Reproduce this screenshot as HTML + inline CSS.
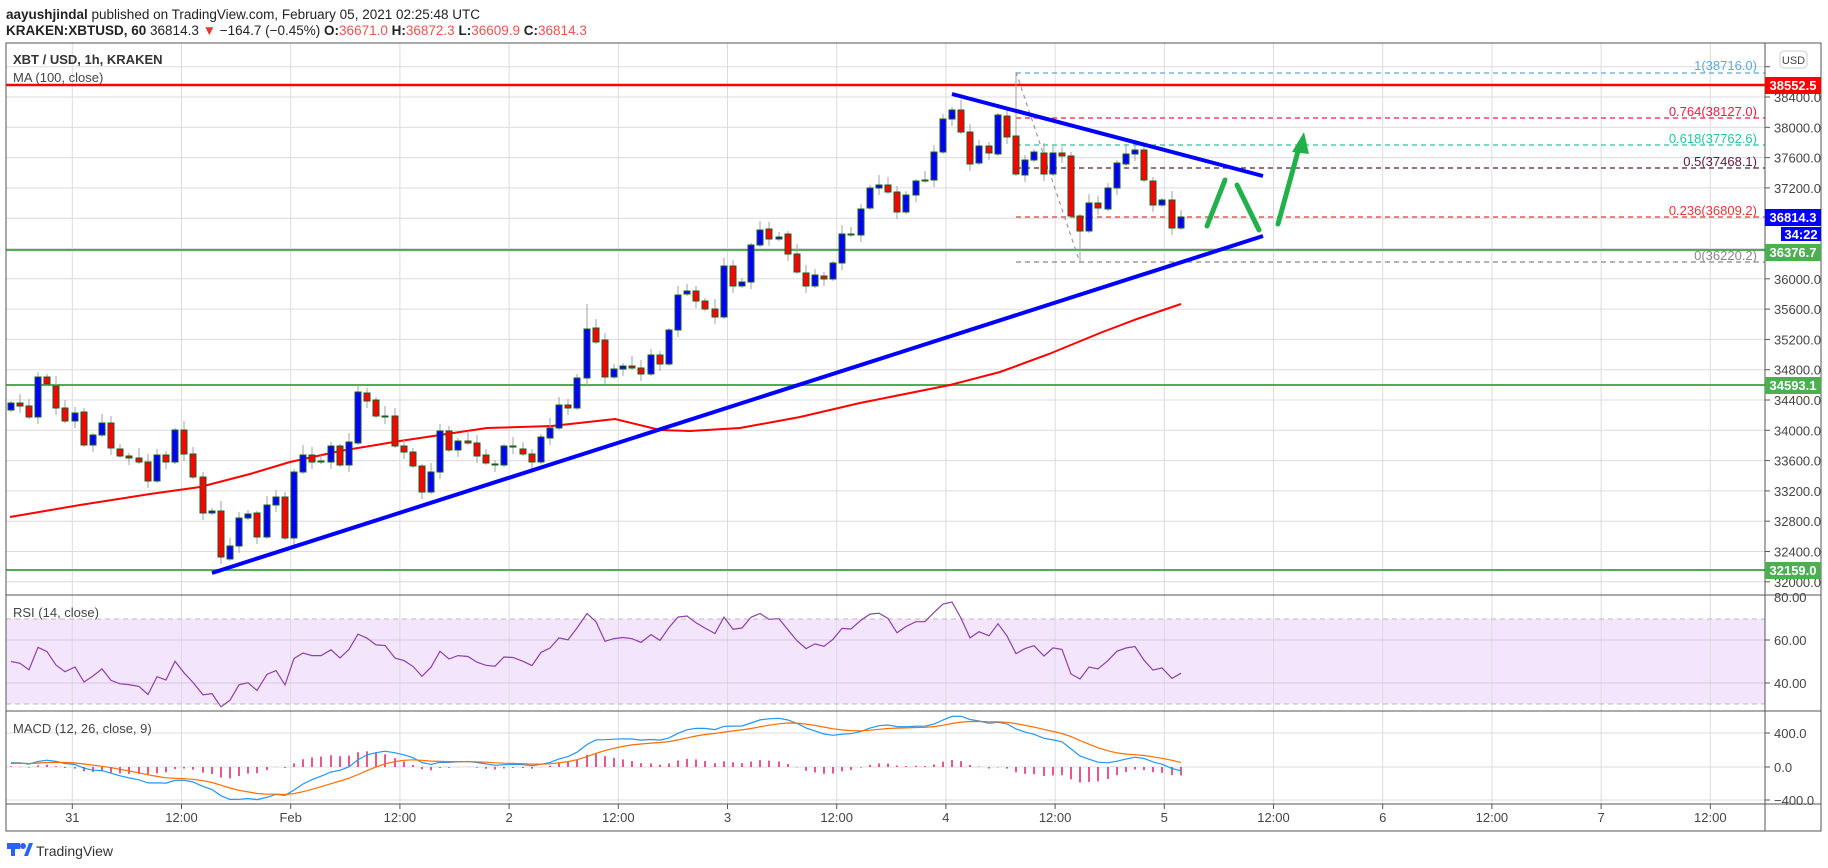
<!DOCTYPE html>
<html><head><meta charset="utf-8">
<style>
html,body{margin:0;padding:0;background:#fff;width:1828px;height:868px;overflow:hidden;font-family:"Liberation Sans",sans-serif;}
svg{position:absolute;left:0;top:0}
</style></head>
<body>
<svg id="s" width="1828" height="868" xmlns="http://www.w3.org/2000/svg" font-family="Liberation Sans, sans-serif"></svg>
<script>
const S=document.getElementById('s');
let h='';
const L=6,R=1765,RR=1821,T=43,MB=595,RB=711,MCB=804,TB=831;
function line(x1,y1,x2,y2,c,w,d){h+=`<line x1="${x1}" y1="${y1}" x2="${x2}" y2="${y2}" stroke="${c}" stroke-width="${w}"${d?` stroke-dasharray="${d}"`:''}/>`;}
function rect(x,y,w,hh,f,st){h+=`<rect x="${x}" y="${y}" width="${w}" height="${hh}" fill="${f}"${st?` stroke="${st}" stroke-width="1"`:''}/>`;}
function text(x,y,t,c,sz,wt,anc){h+=`<text x="${x}" y="${y}" fill="${c}" font-size="${sz}"${wt?` font-weight="${wt}"`:''}${anc?` text-anchor="${anc}"`:''}>${t}</text>`;}
const py=p=>97+(38400-p)/400*30.3;
const yp=y=>38400-(y-97)/30.3*400;
h+=`<text x="6" y="19" font-size="13.5" fill="#222"><tspan font-weight="bold">aayushjindal</tspan> published on TradingView.com, February 05, 2021 02:25:48 UTC</text>`;
h+=`<text x="6" y="35" font-size="13.5" fill="#222"><tspan font-weight="bold">KRAKEN:XBTUSD, 60</tspan> 36814.3 <tspan fill="#e53935">▼</tspan> −164.7 (−0.45%) <tspan font-weight="bold">O:</tspan><tspan fill="#ef5350">36671.0</tspan> <tspan font-weight="bold">H:</tspan><tspan fill="#ef5350">36872.3</tspan> <tspan font-weight="bold">L:</tspan><tspan fill="#ef5350">36609.9</tspan> <tspan font-weight="bold">C:</tspan><tspan fill="#ef5350">36814.3</tspan></text>`;
rect(L,619,R-L,85,'#f3e6fc');
const gx=[];for(let k=0;k<16;k++)gx.push(72.3+109.2*k);
gx.forEach(x=>line(x,T,x,MCB,'#dcdcdc',1));
for(let p=32000;p<=38800;p+=400){const y=py(p);line(L,y,R,y,'#dcdcdc',1);line(R,y,R+5,y,'#555',1);if(p<38800)text(1774,y+5,p.toFixed(1),'#444',13);}
[640,683].forEach(y=>{line(L,y,R,y,'#d6c6e0',1);line(R,y,R+5,y,'#555',1);});
text(1774,645,'60.00','#444',13);text(1774,688,'40.00','#444',13);text(1774,602,'80.00','#444',13);
line(L,619,R,619,'#bbb',1,'5,4');line(L,704,R,704,'#bbb',1,'5,4');
[733,767,800].forEach(y=>{line(L,y,R,y,'#dcdcdc',1);line(R,y,R+5,y,'#555',1);});
text(1774,738,'400.0','#444',13);text(1774,772,'0.0','#444',13);text(1774,805,'−400.0','#444',13);
const tl=['31','12:00','Feb','12:00','2','12:00','3','12:00','4','12:00','5','12:00','6','12:00','7','12:00'];
tl.forEach((t,k)=>{line(gx[k],MCB,gx[k],MCB+5,'#555',1);text(gx[k],822,t,'#444',13,null,'middle');});
line(L,85,R,85,'#ff0000',2.5);
line(L,250,R,250,'#4caf50',2);line(L,385,R,385,'#4caf50',2);line(L,570,R,570,'#4caf50',2);
const fib=[[73,'#5ea9d9','1(38716.0)',65],[118,'#ff1744','0.764(38127.0)',111],[145,'#26c6a0','0.618(37762.6)',138],[168,'#5d1a3a','0.5(37468.1)',161],[217,'#e53935','0.236(36809.2)',210],[262,'#888','0(36220.2)',255]];
fib.forEach(f=>{line(1016,f[0],R,f[0],f[1],1.2,'5,4');text(1757,f[3]+5,f[2],f[1],13,null,'end');});
line(1016,72,1080,263,'#999',1.2,'4,4');
const ma=[[10,517],[80,505],[150,494],[200,487],[250,474],[290,462],[340,451],[400,441],[460,432],[487,428],[552,426],[615,419],[660,430],[690,431],[740,428],[800,417],[860,403],[950,385],[1000,372],[1049,354],[1100,333],[1137,319],[1181,304]];
h+=`<polyline points="${ma.map(p=>p.join(',')).join(' ')}" fill="none" stroke="#ff0000" stroke-width="2"/>`;
const C=[[11,403,410,'b'],[20,403,406,'r'],[29,406,417,'r'],[38,377,417,'b'],[47,377,384,'r'],[56,386,408,'r'],[65,408,421,'r'],[75,413,421,'b'],[84,412,445,'r'],[93,435,445,'b'],[102,423,435,'b'],[111,423,448,'r'],[120,449,456,'r'],[129,456,458,'r'],[139,458,462,'r'],[148,462,481,'r'],[157,455,481,'b'],[166,455,462,'r'],[175,430,462,'b'],[184,430,454,'r'],[193,454,477,'r'],[203,477,513,'r'],[212,511,513,'b'],[221,511,557,'r'],[230,546,559,'b'],[239,518,546,'b'],[248,514,518,'b'],[257,513,537,'r'],[267,505,537,'b'],[276,497,505,'b'],[285,497,538,'r'],[294,472,538,'b'],[303,455,472,'b'],[312,455,462,'r'],[321,461,462,'r'],[331,446,462,'b'],[340,446,465,'r'],[349,442,465,'b'],[358,392,443,'b'],[367,393,401,'r'],[376,400,416,'r'],[385,416,417,'r'],[395,416,446,'r'],[404,446,452,'r'],[413,452,466,'r'],[422,466,492,'r'],[431,472,492,'b'],[440,431,472,'b'],[449,431,450,'r'],[458,441,450,'b'],
[468,441,443,'r'],[477,443,456,'r'],[486,455,463,'r'],[495,464,465,'r'],[504,446,465,'b'],[513,446,447,'r'],[523,449,454,'r'],[532,454,462,'r'],[541,437,462,'b'],[550,428,438,'b'],[559,405,428,'b'],[568,405,408,'r'],[577,378,408,'b'],[587,329,378,'b'],[596,328,342,'r'],[605,340,377,'r'],[614,369,377,'b'],[623,366,369,'b'],[632,366,368,'r'],[641,368,374,'r'],[651,355,374,'b'],[660,355,364,'r'],[669,330,364,'b'],[678,295,330,'b'],[687,291,294,'b'],[696,291,301,'r'],[705,301,309,'r'],[715,309,317,'r'],[724,266,317,'b'],[733,266,286,'r'],[742,282,286,'b'],[751,245,282,'b'],[760,230,245,'b'],[769,229,239,'r'],[779,237,239,'b'],[788,234,254,'r'],[797,254,272,'r'],[806,273,286,'r'],[815,275,286,'b'],[824,276,279,'r'],[833,263,279,'b'],[842,234,263,'b'],[851,234,235,'r'],
[861,209,235,'b'],[870,188,208,'b'],[879,185,188,'b'],[888,185,192,'r'],[897,192,212,'r'],[906,195,212,'b'],[916,181,195,'b'],[925,180,181,'r'],[934,152,180,'b'],[943,119,152,'b'],[952,110,119,'b'],[961,110,132,'r'],[970,132,164,'r'],[979,146,163,'b'],[989,146,153,'r'],[998,115,154,'b'],[1007,116,137,'r'],[1016,136,174,'r'],[1025,160,175,'b'],[1034,152,160,'b'],[1044,153,174,'r'],[1053,153,174,'b'],[1062,153,156,'r'],[1071,156,216,'r'],[1080,216,231,'r'],[1089,203,231,'b'],[1098,203,208,'r'],[1108,188,209,'b'],[1117,163,188,'b'],[1126,154,164,'b'],[1135,150,154,'b'],[1144,150,180,'r'],[1153,181,205,'r'],[1162,200,205,'b'],[1172,200,228,'r'],[1181,217,228,'b']];
C.forEach((c,i)=>{
  let wt=c[1]-(2+(i*7)%9), wb=c[2]+(2+(i*5)%10);
  if(c[0]==1016)wt=72; if(c[0]==1080)wb=263; if(c[0]==587)wt=304;
  line(c[0],wt,c[0],wb,'#a0a0a0',1);
  rect(c[0]-3,c[1],6,Math.max(1,c[2]-c[1]),c[3]=='b'?'#0000ff':'#ff0000','#1b5e20');
});
line(212,573,1263,236,'#0000ff',4);
line(952,94,1263,176,'#0000ff',4);
h+=`<g stroke="#22b04a" stroke-width="5" stroke-linecap="round" fill="none"><line x1="1207" y1="226" x2="1225" y2="180"/><line x1="1237" y1="185" x2="1259" y2="230"/><line x1="1278" y1="224" x2="1300" y2="144"/></g>`;
h+=`<polygon points="1304,132 1292,152 1309,154" fill="#22b04a"/>`;
const cl=C.map(c=>yp(c[3]=='b'?c[1]:c[2]));
let ag=0,al=0,rsi=[];
for(let i=0;i<cl.length;i++){
  const d=i?cl[i]-cl[i-1]:0;const g=Math.max(d,0),l=Math.max(-d,0);
  if(i==0){ag=90;al=90;}else{ag=(ag*13+g)/14;al=(al*13+l)/14;}
  rsi.push(100-100/(1+ag/al));
}
const ry=v=>640+(60-v)*2.15;
h+=`<polyline points="${C.map((c,i)=>c[0]+','+ry(rsi[i]).toFixed(1)).join(' ')}" fill="none" stroke="#8e3fa8" stroke-width="1.2"/>`;
let e12=cl[0]-60,e26=cl[0]-110,sig=40,m=[],sg=[];
for(let i=0;i<cl.length;i++){e12+= (cl[i]-e12)*2/13;e26+=(cl[i]-e26)*2/27;const mm=e12-e26;sig+=(mm-sig)*2/10;m.push(mm);sg.push(sig);}
const my=v=>767-v*34/400;
C.forEach((c,i)=>{const v=m[i]-sg[i];line(c[0],767,c[0],my(v),'#e91e63',1.5);});
h+=`<polyline points="${C.map((c,i)=>c[0]+','+my(m[i]).toFixed(1)).join(' ')}" fill="none" stroke="#2196f3" stroke-width="1.2"/>`;
h+=`<polyline points="${C.map((c,i)=>c[0]+','+my(sg[i]).toFixed(1)).join(' ')}" fill="none" stroke="#ff6d00" stroke-width="1.2"/>`;
h+=`<rect x="${L}" y="${T}" width="${RR-L}" height="${TB-T}" fill="none" stroke="#555" stroke-width="1"/>`;
line(R,T,R,TB,'#555',1);
[MB,RB,MCB].forEach(y=>line(L,y,RR,y,'#555',1));
rect(1765,77,56,17,'#ff0000');text(1793,90,'38552.5','#fff',13,'bold','middle');
rect(1765,209,56,17,'#0000ff');text(1793,222,'36814.3','#fff',13,'bold','middle');
rect(1781,227,40,14,'#0000ff');text(1801,239,'34:22','#fff',13,'bold','middle');
rect(1765,244,56,17,'#4caf50');text(1793,257,'36376.7','#fff',13,'bold','middle');
rect(1765,377,56,17,'#4caf50');text(1793,390,'34593.1','#fff',13,'bold','middle');
rect(1765,562,56,17,'#4caf50');text(1793,575,'32159.0','#fff',13,'bold','middle');
h+=`<rect x="1780" y="51" width="27" height="17" rx="4" fill="#fff" stroke="#ccc"/>`;text(1793.5,64,'USD','#444',11,null,'middle');
text(13,64,'XBT / USD, 1h, KRAKEN','#333',13,'bold');
text(13,82,'MA (100, close)','#444',13);
text(13,617,'RSI (14, close)','#444',13);
text(13,733,'MACD (12, 26, close, 9)','#444',13);
h+=`<g><rect x="7" y="843" width="13" height="6" fill="#2962ff"/><rect x="11" y="843" width="4" height="13" fill="#2962ff"/><circle cx="23" cy="846" r="3" fill="#2962ff"/><polygon points="24,856 29,843 33,843 28,856" fill="#2962ff"/></g>`;
text(36,856,'TradingView','#333',14);
S.innerHTML=h;
</script>
</body></html>
